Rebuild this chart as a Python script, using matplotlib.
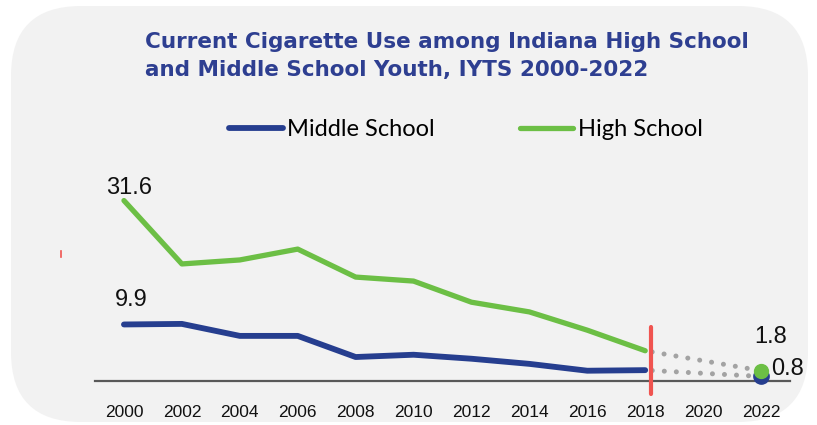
import matplotlib.pyplot as plt
from matplotlib.patches import FancyBboxPatch
from matplotlib.lines import Line2D

years = [2000, 2002, 2004, 2006, 2008, 2010, 2012, 2014, 2016, 2018]
high_school = [31.6, 20.5, 21.2, 23.1, 18.2, 17.5, 13.8, 12.1, 8.9, 5.3]
middle_school = [9.9, 10.0, 7.9, 7.9, 4.2, 4.6, 3.9, 3.0, 1.8, 1.9]
year_2022 = 2022
hs_2022 = 1.8
ms_2022 = 0.8
tick_years = [2000, 2002, 2004, 2006, 2008, 2010, 2012, 2014, 2016, 2018, 2020, 2022]

green = "#6cbf45"
blue = "#263e8f"
title_col = "#2e3f91"
red = "#f05450"
dots = "#a3a3a3"

W, H = 817, 425
fig = plt.figure(figsize=(W / 100, H / 100), dpi=100, facecolor="white")

# background panel with rounded corners (pixel coords)
bg = fig.add_axes([0, 0, 1, 1], zorder=0)
bg.set_xlim(0, W)
bg.set_ylim(H, 0)
bg.axis("off")
bg.add_patch(FancyBboxPatch((11 + 70, 6 + 70), 797 - 140, 416 - 140,
                            boxstyle="round,pad=70", fc="#f2f2f2", ec="none"))
bg.add_line(Line2D([61, 61], [251, 257], color=red, lw=1.2))

ax = fig.add_axes([95 / W, (H - 381) / H, 695 / W, (381 - 152.6) / H], zorder=1)
ax.set_facecolor("none")
ax.set_xlim(1999, 2023)
ax.set_ylim(0, 40)

ax.plot(years, middle_school, color=blue, lw=4.2, solid_capstyle="round",
        label="Middle School", zorder=3)
ax.plot(years, high_school, color=green, lw=3.8, solid_capstyle="round",
        label="High School", zorder=3)

# dotted projection to 2022
ax.plot([years[-1], year_2022], [high_school[-1], hs_2022], color=dots, lw=3.6,
        linestyle=(1.0, (0.01, 2.4)), dash_capstyle="round", zorder=2)
ax.plot([years[-1], year_2022], [middle_school[-1], ms_2022], color=dots, lw=3.6,
        linestyle=(1.0, (0.01, 2.4)), dash_capstyle="round", zorder=2)
ax.plot([year_2022], [ms_2022], "o", color=blue, ms=11, clip_on=False, zorder=4)
ax.plot([year_2022], [hs_2022], "o", color=green, ms=10, clip_on=False, zorder=5)

# 2018 marker line
ax.plot([2018.2, 2018.2], [-2.3, 9.5], color=red, lw=3, solid_capstyle="round",
        clip_on=False, zorder=6)

lab_font = ["Liberation Sans Narrow", "Liberation Sans", "DejaVu Sans"]
ax.annotate(f"{high_school[0]}", (years[0], high_school[0]), xytext=(5, 13),
            textcoords="offset pixels", ha="center", va="center", fontsize=17,
            family=lab_font, color="#111111")
ax.annotate(f"{middle_school[0]}", (years[0], middle_school[0]), xytext=(7, 24),
            textcoords="offset pixels", ha="center", va="center", fontsize=17,
            family=lab_font, color="#111111")
ax.annotate(f"{hs_2022}", (year_2022, hs_2022), xytext=(10, 34),
            textcoords="offset pixels", ha="center", va="center", fontsize=17,
            family=lab_font, color="#111111")
ax.annotate(f"{ms_2022}", (year_2022, ms_2022), xytext=(26, 7),
            textcoords="offset pixels", ha="center", va="center", fontsize=17,
            family=lab_font, color="#111111")

ax.set_xticks(tick_years)
ax.set_xticklabels([str(y) for y in tick_years], family=lab_font, fontsize=12.5,
                   color="#111111")
ax.set_yticks([])
ax.tick_params(axis="x", length=0, pad=17)
for s in ["top", "left", "right"]:
    ax.spines[s].set_visible(False)
ax.spines["bottom"].set_color("#595959")
ax.spines["bottom"].set_linewidth(1.6)
ax.spines["bottom"].set_zorder(1)

fig.legend(loc="center", bbox_to_anchor=(466 / W, 1 - 130 / H), ncol=2,
           frameon=False, handlelength=2.25, handletextpad=0.2,
           columnspacing=3.6, prop={"family": "Lato", "size": 17})

fig.text(145 / W, 1 - 32 / H,
         "Current Cigarette Use among Indiana High School\nand Middle School Youth, IYTS 2000-2022",
         ha="left", va="top", fontsize=15.5, fontweight="bold", family="DejaVu Sans",
         color=title_col, linespacing=1.5)

fig.savefig("out.png", dpi=100, facecolor="white")
